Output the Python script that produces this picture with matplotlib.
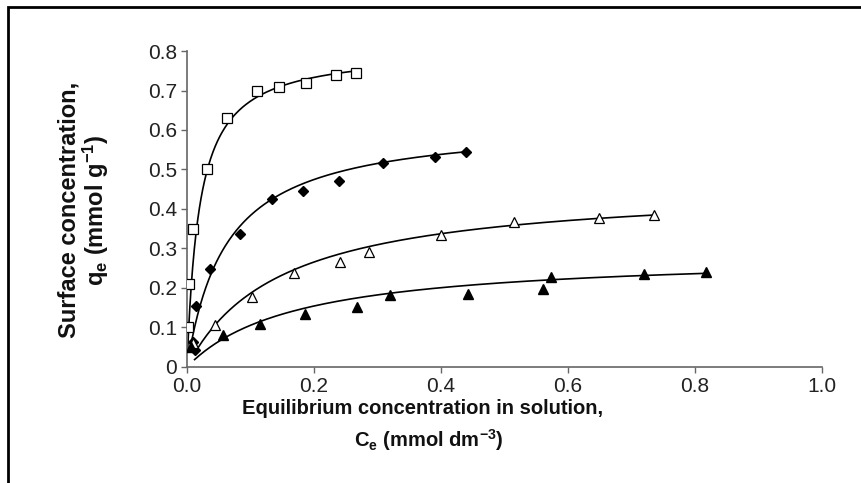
import numpy as np
import matplotlib
matplotlib.use("Agg")
import matplotlib.pyplot as plt
from matplotlib.patches import Rectangle

plt.rcParams['font.family'] = ['Liberation Sans', 'DejaVu Sans']
plt.rcParams['mathtext.fontset'] = 'custom'
plt.rcParams['mathtext.rm'] = 'Liberation Sans:bold'
plt.rcParams['mathtext.bf'] = 'Liberation Sans:bold'
plt.rcParams['mathtext.default'] = 'bf'

# measured points
sq_x = [0.001, 0.003, 0.010, 0.032, 0.063, 0.110, 0.145, 0.187, 0.234, 0.266]
sq_y = [0.10, 0.21, 0.35, 0.50, 0.63, 0.70, 0.71, 0.72, 0.74, 0.745]

dia_x = [0.013, 0.010, 0.014, 0.036, 0.083, 0.134, 0.183, 0.240, 0.308, 0.391, 0.440]
dia_y = [0.043, 0.064, 0.155, 0.248, 0.337, 0.425, 0.446, 0.472, 0.516, 0.531, 0.545]

otri_x = [0.010, 0.044, 0.103, 0.169, 0.241, 0.287, 0.400, 0.515, 0.649, 0.735]
otri_y = [0.060, 0.106, 0.176, 0.237, 0.265, 0.290, 0.334, 0.366, 0.376, 0.386]

ftri_x = [0.007, 0.057, 0.115, 0.186, 0.268, 0.319, 0.442, 0.561, 0.573, 0.720, 0.817]
ftri_y = [0.050, 0.081, 0.110, 0.134, 0.151, 0.182, 0.184, 0.197, 0.229, 0.235, 0.241]

# Langmuir fit parameters (qm, K) and curve ranges
fit_qm = [0.805, 0.622, 0.462, 0.287]
fit_k = [51.0, 16.1, 6.77, 5.82]
fit_start = [0.001, 0.008, 0.012, 0.012]
fit_end = [0.266, 0.440, 0.735, 0.820]

x_ticks = [0.0, 0.2, 0.4, 0.6, 0.8, 1.0]
x_labels = ['0.0', '0.2', '0.4', '0.6', '0.8', '1.0']
y_ticks = [0, 0.1, 0.2, 0.3, 0.4, 0.5, 0.6, 0.7, 0.8]
y_labels = ['0', '0.1', '0.2', '0.3', '0.4', '0.5', '0.6', '0.7', '0.8']

fig = plt.figure(figsize=(8.62, 4.83), dpi=100)
ax = fig.add_axes([0.2169, 0.2402, 0.7367, 0.6542])

for qm, k, c0, c1 in zip(fit_qm, fit_k, fit_start, fit_end):
    c = np.linspace(c0, c1, 300)
    ax.plot(c, qm * k * c / (1 + k * c), color='black', lw=1.2, zorder=2)

ax.plot(sq_x, sq_y, 's', ms=6.5, mfc='white', mec='black', mew=0.9, zorder=3)
ax.plot(dia_x, dia_y, 'D', ms=5.5, mfc='black', mec='black', zorder=3)
ax.plot(otri_x, otri_y, '^', ms=7, mfc='white', mec='black', mew=0.9, zorder=3)
ax.plot(ftri_x, ftri_y, '^', ms=7, mfc='black', mec='black', zorder=3)

ax.set_xlim(0, 1.0)
ax.set_ylim(0, 0.8)
ax.set_xticks(x_ticks)
ax.set_xticklabels(x_labels, fontsize=15)
ax.set_yticks(y_ticks)
ax.set_yticklabels(y_labels, fontsize=15)
ax.tick_params(direction='out', length=4, width=1, color='#666666',
               labelcolor='#222222', pad=3)
for s in ['top', 'right']:
    ax.spines[s].set_visible(False)
for s in ['left', 'bottom']:
    ax.spines[s].set_color('#666666')
    ax.spines[s].set_linewidth(1.2)
ax.patch.set_alpha(0)

fig.text(0.080, 0.565, 'Surface concentration,', rotation=90, ha='center',
         va='center', fontsize=17, fontweight='bold', color='#111111')
fig.text(0.111, 0.565, r'q$_{e}$ (mmol g$^{-1}$)', rotation=90, ha='center',
         va='center', fontsize=17, fontweight='bold', color='#111111')
fig.text(0.49, 0.155, 'Equilibrium concentration in solution,', ha='center',
         va='center', fontsize=14.5, fontweight='bold', color='#111111')
fig.text(0.497, 0.088, r'C$_{e}$ (mmol dm$^{-3}$)', ha='center',
         va='center', fontsize=14.5, fontweight='bold', color='#111111')

# outer frame, cut off at right and bottom
fig.add_artist(Rectangle((0.0098, -0.05), 1.05, 1.035, transform=fig.transFigure,
                         fill=False, edgecolor='black', lw=2))

fig.savefig('out.png', dpi=100)
